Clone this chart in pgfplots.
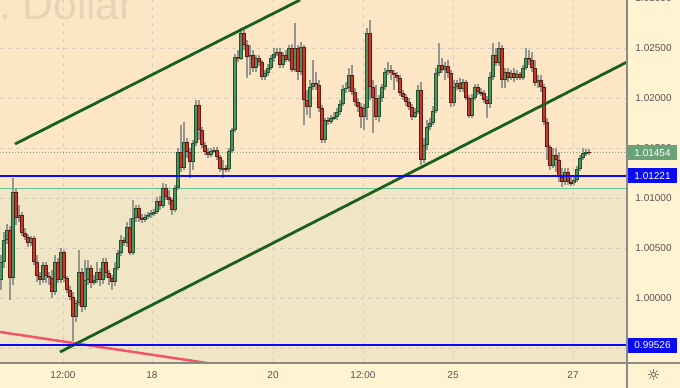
\documentclass[border=0pt]{standalone}
\usepackage{pgfplots}
\pgfplotsset{compat=1.18}
\usepackage{pgfplotstable}
\usepackage{fontspec}
\setmainfont{Liberation Sans}
\newfontfamily\symfont{DejaVu Sans}
\definecolor{panel}{RGB}{255,243,209}
\definecolor{peach}{RGB}{253,230,197}
\definecolor{beige}{RGB}{240,229,196}
\definecolor{gridc}{RGB}{215,205,190}
\definecolor{mint}{RGB}{100,200,150}
\definecolor{trend}{RGB}{25,95,30}
\definecolor{redline}{RGB}{240,85,105}
\definecolor{tvblue}{RGB}{10,10,245}
\definecolor{lastc}{RGB}{106,162,120}
\definecolor{dotc}{RGB}{130,160,120}
\definecolor{wickc}{RGB}{150,150,145}
\definecolor{upedge}{RGB}{30,85,45}
\definecolor{upfill}{RGB}{80,145,98}
\definecolor{dnedge}{RGB}{100,25,20}
\definecolor{dnfill}{RGB}{200,55,40}
\definecolor{textc}{RGB}{85,85,85}
\definecolor{wmark}{RGB}{233,211,180}
\definecolor{framec}{RGB}{140,138,132}

\pgfplotstableread{
x o h l c
1 1.0018 1.0043 1.0008 1.0036
4 1.0036 1.0066 1.0030 1.0058
7 1.0058 1.0074 1.0054 1.0068
10 1.0068 1.0072 0.9998 1.0020
13 1.0020 1.0120 1.0013 1.0106
16 1.0106 1.0110 1.0073 1.0080
19 1.0080 1.0093 1.0076 1.0083
22 1.0083 1.0086 1.0062 1.0065
25 1.0065 1.0070 1.0058 1.0061
28 1.0061 1.0064 1.0051 1.0055
31 1.0055 1.0062 1.0052 1.0060
34 1.0060 1.0062 1.0033 1.0036
37 1.0036 1.0043 1.0016 1.0022
40 1.0022 1.0026 1.0013 1.0018
43 1.0018 1.0036 1.0015 1.0033
46 1.0033 1.0036 1.0015 1.0022
49 1.0022 1.0026 1.0013 1.0020
52 1.0020 1.0028 1.0000 1.0006
55 1.0006 1.0043 1.0003 1.0036
58 1.0036 1.0040 1.0015 1.0018
61 1.0018 1.0050 1.0015 1.0046
64 1.0046 1.0048 1.0016 1.0020
67 1.0020 1.0022 1.0005 1.0008
70 1.0008 1.0012 0.9998 1.0001
73 1.0001 1.0006 0.9957 0.9981
76 0.9981 0.9998 0.9976 0.9995
79 0.9995 1.0048 0.9992 1.0026
82 1.0026 1.0030 0.9986 0.9991
85 0.9991 1.0038 0.9988 1.0018
88 1.0018 1.0038 1.0013 1.0030
91 1.0030 1.0033 1.0010 1.0015
94 1.0015 1.0023 1.0013 1.0018
97 1.0018 1.0036 1.0015 1.0026
100 1.0026 1.0030 1.0012 1.0018
103 1.0018 1.0040 1.0014 1.0036
106 1.0036 1.0040 1.0020 1.0025
109 1.0025 1.0028 1.0013 1.0020
112 1.0020 1.0023 1.0008 1.0016
115 1.0016 1.0036 1.0012 1.0030
118 1.0030 1.0048 1.0028 1.0045
121 1.0045 1.0063 1.0042 1.0058
124 1.0058 1.0061 1.0052 1.0055
127 1.0055 1.0076 1.0051 1.0071
130 1.0071 1.0080 1.0043 1.0045
133 1.0045 1.0098 1.0043 1.0080
136 1.0080 1.0093 1.0076 1.0090
139 1.0090 1.0093 1.0076 1.0080
142 1.0080 1.0084 1.0075 1.0078
145 1.0078 1.0084 1.0076 1.0081
148 1.0081 1.0086 1.0079 1.0083
151 1.0083 1.0088 1.0080 1.0085
154 1.0085 1.0089 1.0082 1.0086
157 1.0086 1.0101 1.0084 1.0097
160 1.0097 1.0102 1.0088 1.0092
163 1.0092 1.0115 1.0090 1.0110
166 1.0110 1.0114 1.0098 1.0101
169 1.0101 1.0108 1.0093 1.0098
172 1.0098 1.0100 1.0083 1.0088
175 1.0088 1.0113 1.0086 1.0110
178 1.0110 1.0150 1.0108 1.0146
181 1.0146 1.0173 1.0126 1.0130
184 1.0130 1.0176 1.0128 1.0156
187 1.0156 1.0160 1.0140 1.0146
190 1.0146 1.0150 1.0120 1.0136
193 1.0136 1.0158 1.0128 1.0155
196 1.0155 1.0198 1.0152 1.0193
199 1.0193 1.0198 1.0158 1.0168
202 1.0168 1.0171 1.0150 1.0153
205 1.0153 1.0156 1.0143 1.0146
208 1.0146 1.0150 1.0140 1.0143
211 1.0143 1.0150 1.0141 1.0147
214 1.0147 1.0151 1.0145 1.0148
217 1.0148 1.0151 1.0138 1.0141
220 1.0141 1.0143 1.0126 1.0129
223 1.0129 1.0138 1.0120 1.0130
226 1.0130 1.0133 1.0126 1.0129
229 1.0129 1.0150 1.0126 1.0147
232 1.0147 1.0170 1.0145 1.0168
235 1.0168 1.0244 1.0166 1.0241
238 1.0241 1.0248 1.0236 1.0239
241 1.0239 1.0270 1.0238 1.0265
244 1.0265 1.0268 1.0248 1.0253
247 1.0253 1.0258 1.0220 1.0241
250 1.0241 1.0253 1.0223 1.0243
253 1.0243 1.0248 1.0226 1.0230
256 1.0230 1.0243 1.0226 1.0240
259 1.0240 1.0243 1.0232 1.0236
262 1.0236 1.0238 1.0218 1.0221
265 1.0221 1.0228 1.0218 1.0225
268 1.0225 1.0234 1.0222 1.0230
271 1.0230 1.0243 1.0228 1.0240
274 1.0240 1.0250 1.0236 1.0244
277 1.0244 1.0250 1.0242 1.0246
280 1.0246 1.0250 1.0230 1.0233
283 1.0233 1.0246 1.0230 1.0243
286 1.0243 1.0248 1.0236 1.0238
289 1.0238 1.0253 1.0236 1.0250
292 1.0250 1.0254 1.0226 1.0228
295 1.0228 1.0275 1.0226 1.0250
298 1.0250 1.0253 1.0218 1.0226
301 1.0226 1.0256 1.0223 1.0251
304 1.0251 1.0253 1.0173 1.0198
307 1.0198 1.0208 1.0183 1.0191
310 1.0191 1.0218 1.0180 1.0211
313 1.0211 1.0238 1.0208 1.0215
316 1.0215 1.0226 1.0208 1.0213
319 1.0213 1.0218 1.0186 1.0190
322 1.0190 1.0193 1.0155 1.0158
325 1.0158 1.0180 1.0155 1.0178
328 1.0178 1.0181 1.0173 1.0176
331 1.0176 1.0183 1.0174 1.0180
334 1.0180 1.0186 1.0178 1.0181
337 1.0181 1.0190 1.0178 1.0186
340 1.0186 1.0198 1.0183 1.0194
343 1.0194 1.0213 1.0192 1.0209
346 1.0209 1.0216 1.0205 1.0210
349 1.0210 1.0230 1.0206 1.0223
352 1.0223 1.0233 1.0203 1.0206
355 1.0206 1.0210 1.0192 1.0196
358 1.0196 1.0200 1.0186 1.0191
361 1.0191 1.0195 1.0170 1.0181
364 1.0181 1.0194 1.0168 1.0190
367 1.0190 1.0270 1.0178 1.0265
370 1.0265 1.0278 1.0198 1.0211
373 1.0211 1.0218 1.0165 1.0200
376 1.0200 1.0213 1.0178 1.0181
379 1.0181 1.0203 1.0176 1.0200
382 1.0200 1.0214 1.0196 1.0211
385 1.0211 1.0230 1.0208 1.0226
388 1.0226 1.0236 1.0223 1.0228
391 1.0228 1.0233 1.0218 1.0225
394 1.0225 1.0228 1.0208 1.0223
397 1.0223 1.0226 1.0216 1.0220
400 1.0220 1.0223 1.0202 1.0205
403 1.0205 1.0208 1.0198 1.0201
406 1.0201 1.0204 1.0192 1.0196
409 1.0196 1.0200 1.0188 1.0191
412 1.0191 1.0194 1.0178 1.0181
415 1.0181 1.0190 1.0180 1.0186
418 1.0186 1.0213 1.0184 1.0208
421 1.0208 1.0216 1.0133 1.0138
424 1.0138 1.0160 1.0135 1.0153
427 1.0153 1.0178 1.0148 1.0171
430 1.0171 1.0180 1.0168 1.0175
433 1.0175 1.0192 1.0173 1.0187
436 1.0187 1.0230 1.0185 1.0225
439 1.0225 1.0255 1.0222 1.0233
442 1.0233 1.0240 1.0225 1.0228
445 1.0228 1.0236 1.0218 1.0232
448 1.0232 1.0238 1.0220 1.0225
451 1.0225 1.0228 1.0191 1.0195
454 1.0195 1.0218 1.0192 1.0211
457 1.0211 1.0218 1.0208 1.0215
460 1.0215 1.0220 1.0206 1.0209
463 1.0209 1.0219 1.0206 1.0216
466 1.0216 1.0218 1.0198 1.0200
469 1.0200 1.0203 1.0180 1.0182
472 1.0182 1.0204 1.0180 1.0200
475 1.0200 1.0214 1.0198 1.0211
478 1.0211 1.0214 1.0203 1.0206
481 1.0206 1.0210 1.0202 1.0205
484 1.0205 1.0208 1.0195 1.0198
487 1.0198 1.0202 1.0180 1.0194
490 1.0194 1.0226 1.0190 1.0221
493 1.0221 1.0255 1.0218 1.0243
496 1.0243 1.0250 1.0232 1.0235
499 1.0235 1.0256 1.0232 1.0250
502 1.0250 1.0253 1.0210 1.0218
505 1.0218 1.0230 1.0210 1.0226
508 1.0226 1.0230 1.0216 1.0220
511 1.0220 1.0228 1.0218 1.0225
514 1.0225 1.0230 1.0216 1.0220
517 1.0220 1.0228 1.0218 1.0224
520 1.0224 1.0226 1.0218 1.0220
523 1.0220 1.0233 1.0218 1.0230
526 1.0230 1.0250 1.0228 1.0240
529 1.0240 1.0248 1.0233 1.0238
532 1.0238 1.0246 1.0226 1.0230
535 1.0230 1.0238 1.0212 1.0215
538 1.0215 1.0223 1.0210 1.0218
541 1.0218 1.0223 1.0206 1.0211
544 1.0211 1.0214 1.0173 1.0176
547 1.0176 1.0180 1.0138 1.0151
550 1.0151 1.0153 1.0128 1.0132
553 1.0132 1.0150 1.0130 1.0143
556 1.0143 1.0150 1.0126 1.0138
559 1.0138 1.0146 1.0116 1.0121
562 1.0121 1.0130 1.0111 1.0116
565 1.0116 1.0130 1.0113 1.0126
568 1.0126 1.0130 1.0113 1.0116
571 1.0116 1.0122 1.0112 1.0115
574 1.0115 1.0122 1.0113 1.0118
577 1.0118 1.0132 1.0116 1.0129
580 1.0129 1.0143 1.0127 1.0140
583 1.0140 1.0150 1.0138 1.0145
586 1.0145 1.0149 1.0142 1.0146
589 1.0146 1.0149 1.0143 1.01454
}\candles

\pgfplotsset{
  candle/.style n args={2}{draw=none, mark=none, forget plot,
    error bars/.cd, y dir=both, y explicit, error mark=none,
    error bar style={line width=#1, draw=#2, solid}, /pgfplots/.cd},
}

\begin{document}
\begin{tikzpicture}[x=1pt,y=1pt]
\begin{scope}
\clip (0,0) rectangle (680,388);
\fill[panel] (0,0) rectangle (680,388);
\fill[peach] (0,25) rectangle (627,388);
\fill[beige] (0,25) rectangle (627,199);
\node[anchor=base east, text=wmark, font=\fontsize{42.5}{44}\selectfont, inner sep=0pt]
  at (134,368) {U.S. Dollar};
\begin{axis}[
  at={(0pt,25pt)}, anchor=south west,
  width=627pt, height=363pt, scale only axis,
  xmin=0, xmax=627, ymin=0.9935, ymax=1.0298,
  clip=false,
  axis line style={draw=none},
  xtick={63,152,273,363,453,573},
  xticklabels={12:00,18,20,12:00,25,27},
  ytick={0.995,1.000,1.005,1.010,1.015,1.020,1.025},
  yticklabels={,1.00000,1.00500,1.01000,1.01500,1.02000,1.02500},
  yticklabel pos=right,
  major tick length=0pt,
  tick style={draw=none},
  grid=major,
  grid style={draw=gridc, line width=0.8pt, dash pattern=on 4pt off 4pt},
  xticklabel style={font=\fontsize{10}{12}\selectfont, text=textc, anchor=center, yshift=-12pt},
  yticklabel style={font=\fontsize{10}{12}\selectfont, text=textc, anchor=center, xshift=26.5pt},
  /pgf/number format/assume math mode=true,
]
% zone border
\addplot[mint, line width=1pt] coordinates {(0,1.0109) (627,1.0109)};
% last price dotted line
\addplot[dotc, line width=0.8pt, dash pattern=on 1pt off 2pt] coordinates {(0,1.01454) (627,1.01454)};
% wicks
\addplot[candle={1.1pt}{wickc}]
  table[x=x, y=l, y error plus expr=\thisrow{h}-\thisrow{l}, y error minus expr=0] {\candles};
% up bodies
\addplot[restrict expr to domain={\thisrow{c}-\thisrow{o}}{0:1}, candle={3.2pt}{upedge}]
  table[x=x, y expr=(\thisrow{o}+\thisrow{c})/2,
        y error expr={max(abs(\thisrow{c}-\thisrow{o})/2,0.00007)}] {\candles};
\addplot[restrict expr to domain={\thisrow{c}-\thisrow{o}}{0:1}, candle={1.6pt}{upfill}]
  table[x=x, y expr=(\thisrow{o}+\thisrow{c})/2,
        y error expr={max(abs(\thisrow{c}-\thisrow{o})/2-0.00007,0)}] {\candles};
% down bodies
\addplot[restrict expr to domain={\thisrow{c}-\thisrow{o}}{-1:0}, candle={3.2pt}{dnedge}]
  table[x=x, y expr=(\thisrow{o}+\thisrow{c})/2,
        y error expr={max(abs(\thisrow{c}-\thisrow{o})/2,0.00007)}] {\candles};
\addplot[restrict expr to domain={\thisrow{c}-\thisrow{o}}{-1:0}, candle={1.6pt}{dnfill}]
  table[x=x, y expr=(\thisrow{o}+\thisrow{c})/2,
        y error expr={max(abs(\thisrow{c}-\thisrow{o})/2-0.00007,0)}] {\candles};
% drawings
\addplot[redline, line width=2.5pt] coordinates {(0,0.9966) (207,0.9935)};
\addplot[trend, line width=2.8pt] coordinates {(15,1.0154) (300,1.0298)};
\addplot[trend, line width=2.8pt] coordinates {(60,0.9946) (627,1.0236)};
\addplot[tvblue, line width=1.8pt] coordinates {(0,1.01221) (627,1.01221)};
\addplot[tvblue, line width=1.8pt] coordinates {(0,0.99526) (627,0.99526)};
% price labels
\node[text=textc, font=\fontsize{10}{12}\selectfont] at (axis cs:653.5,1.0300) {1.03000};
\node[fill=lastc, text=white, minimum width=49pt, minimum height=15pt, inner sep=0pt,
  font=\fontsize{10}{12}\selectfont] at (axis cs:652.5,1.01454) {1.01454};
\node[fill=tvblue, text=white, minimum width=49pt, minimum height=15pt, inner sep=0pt,
  font=\fontsize{10}{12}\selectfont] at (axis cs:652.5,1.01221) {1.01221};
\node[fill=tvblue, text=white, minimum width=49pt, minimum height=15pt, inner sep=0pt,
  font=\fontsize{10}{12}\selectfont] at (axis cs:652.5,0.99526) {0.99526};
\end{axis}
\draw[framec, line width=1.5pt] (0,25) -- (680,25);
\draw[framec, line width=1.5pt] (627,0) -- (627,388);
\node[text=black!75, font=\symfont\fontsize{15}{15}\selectfont] at (653.5,13) {☼};
\end{scope}
\pgfresetboundingbox
\path[use as bounding box] (0,0) rectangle (680,388);
\end{tikzpicture}
\end{document}
